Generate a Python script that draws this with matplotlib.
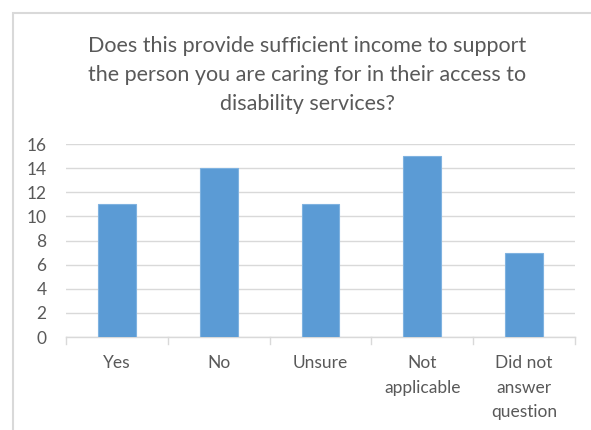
import matplotlib.pyplot as plt
from matplotlib.patches import Rectangle

categories = ['Yes', 'No', 'Unsure', 'Not\napplicable', 'Did not\nanswer\nquestion']
counts = [11, 14, 11, 15, 7]
y_ticks = [0, 2, 4, 6, 8, 10, 12, 14, 16]

text_grey = '#595959'
grid_grey = '#d9d9d9'
bar_blue = '#5b9bd5'

plt.rcParams['font.family'] = ['Lato', 'DejaVu Sans']

fig = plt.figure(figsize=(5.91, 4.30), dpi=100)
W, H = 591, 430

# chart area frame (runs off the right and bottom edges)
fig.patches.append(Rectangle((13 / W, -0.1), 1.2, 1 - 13 / H + 0.1,
                             transform=fig.transFigure, fill=False,
                             edgecolor='#d9d9d9', linewidth=1.5))

ax = fig.add_axes([66 / W, 1 - 337 / H, (575 - 66) / W, (337 - 144) / H])
x = range(len(categories))
ax.bar(x, counts, width=0.37, color=bar_blue, edgecolor='#7fb2e0',
       linewidth=0.8, zorder=3)

ax.set_xlim(-0.5, len(categories) - 0.5)
ax.set_ylim(0, 16)
ax.set_yticks(y_ticks)
ax.yaxis.grid(True, color=grid_grey, linewidth=1, zorder=0)
ax.tick_params(axis='y', length=0, labelsize=12.5, labelcolor=text_grey, pad=14)

# category labels centred under bars, ticks at category boundaries
ax.set_xticks(list(x))
ax.set_xticklabels(categories, fontsize=12.5, color=text_grey, linespacing=1.65)
ax.tick_params(axis='x', length=0, pad=13)
for b in [i - 0.5 for i in range(len(categories) + 1)]:
    ax.plot([b, b], [0, -0.6], color=grid_grey, linewidth=1,
            clip_on=False, zorder=2)

for side in ['top', 'right', 'left']:
    ax.spines[side].set_visible(False)
ax.spines['bottom'].set_color(grid_grey)
ax.spines['bottom'].set_linewidth(1)

fig.text(0.5 + 12 / W, 1 - 75 / H,
         'Does this provide sufficient income to support\n'
         'the person you are caring for in their access to\n'
         'disability services?',
         ha='center', va='center', fontsize=15.5, color=text_grey,
         linespacing=1.55)

fig.savefig('out.png', dpi=100)
